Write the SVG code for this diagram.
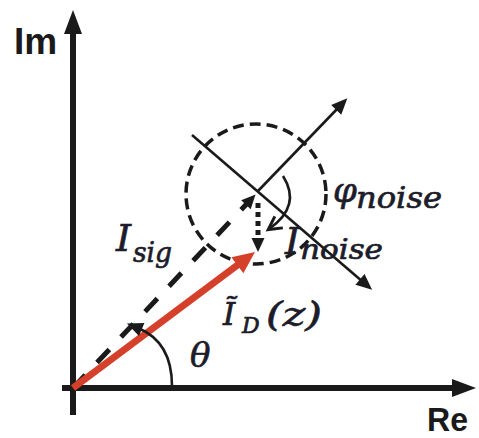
<svg xmlns="http://www.w3.org/2000/svg" width="479" height="438" viewBox="0 0 479 438">
<style>
.ax{stroke:#1a1a1a;stroke-width:6;fill:none}
.thin{stroke:#1a1a1a;stroke-width:2.6;fill:none}
.lbl{font-family:"Liberation Sans",Arial,sans-serif;font-weight:bold;fill:#1a1a1a}
.m{font-family:"DejaVu Serif",serif;font-style:italic;fill:#1c1c2a;stroke:#1c1c2a;stroke-width:0.7}
</style>
<defs>
<marker id="axh" markerUnits="userSpaceOnUse" markerWidth="26" markerHeight="18" refX="4" refY="9" orient="auto" overflow="visible">
<path d="M0,0 L24,9 L0,18 z" fill="#1a1a1a"/>
</marker>
<marker id="th" markerUnits="userSpaceOnUse" markerWidth="18" markerHeight="14" refX="4" refY="7" orient="auto" overflow="visible">
<path d="M0,0 L16,7 L0,14 z" fill="#1a1a1a"/>
</marker>
<marker id="rh" markerUnits="userSpaceOnUse" markerWidth="24" markerHeight="20" refX="4" refY="10" orient="auto" overflow="visible">
<path d="M0,0 L22,10 L0,20 z" fill="#d5402b"/>
</marker>
<marker id="dh" markerUnits="userSpaceOnUse" markerWidth="16" markerHeight="13" refX="3" refY="6.5" orient="auto" overflow="visible">
<path d="M0,0 L14,6.5 L0,13 z" fill="#1a1a1a"/>
</marker>
<marker id="ch" markerUnits="userSpaceOnUse" markerWidth="16" markerHeight="16" refX="12" refY="7" orient="auto" overflow="visible">
<path d="M0,0 L13,7 L0,14" fill="none" stroke="#1a1a1a" stroke-width="3"/>
</marker>
</defs>
<g id="axes">
<line class="ax" x1="73" y1="415" x2="73" y2="30" marker-end="url(#axh)"/>
<line class="ax" x1="62" y1="388" x2="456" y2="388" marker-end="url(#axh)"/>
</g>
<g id="noise-circle">
<circle cx="256" cy="194" r="70" fill="none" stroke="#1a1a1a" stroke-width="3.5" stroke-dasharray="11 6"/>
</g>
<g id="connectors">
<line class="thin" x1="192" y1="135" x2="363" y2="282" marker-end="url(#th)"/>
<line class="thin" x1="258" y1="191" x2="339" y2="107" marker-end="url(#th)"/>
<line x1="73" y1="388" x2="248" y2="202.5" stroke="#1a1a1a" stroke-width="5" stroke-dasharray="18 17" marker-end="url(#dh)"/>
<line x1="73" y1="388" x2="240.6" y2="262.8" stroke="#d5402b" stroke-width="7" marker-end="url(#rh)"/>
<line x1="258" y1="203" x2="258" y2="241" stroke="#1a1a1a" stroke-width="5" stroke-dasharray="5 4" marker-end="url(#dh)"/>
<path class="thin" d="M283,176 Q302,206 269,229" stroke-width="3" marker-end="url(#ch)"/>
<path class="thin" d="M172,386 Q172,342 138,328" stroke-width="3" marker-end="url(#th)"/>
</g>
<g id="labels">
<text class="lbl" x="14" y="54" font-size="37">Im</text>
<text class="lbl" x="427" y="431" font-size="34" textLength="41" lengthAdjust="spacingAndGlyphs">Re</text>
<text class="m" x="116" y="251" font-size="38">I</text>
<text class="m" x="133" y="262" font-size="28" textLength="39" lengthAdjust="spacingAndGlyphs">sig</text>
<text class="m" x="223" y="325" font-size="31">Ĩ</text>
<text class="m" x="242" y="333" font-size="22">D</text>
<text class="m" x="266" y="326" font-size="33" textLength="56" lengthAdjust="spacingAndGlyphs">(z)</text>
<text class="m" x="190" y="367" font-size="34">θ</text>
<text class="m" x="333" y="202" font-size="34">φ</text>
<text class="m" x="356" y="208" font-size="29" textLength="86" lengthAdjust="spacingAndGlyphs">noise</text>
<text class="m" x="285" y="254" font-size="38">I</text>
<text class="m" x="300" y="259" font-size="28" textLength="83" lengthAdjust="spacingAndGlyphs">noise</text>
</g>
</svg>
